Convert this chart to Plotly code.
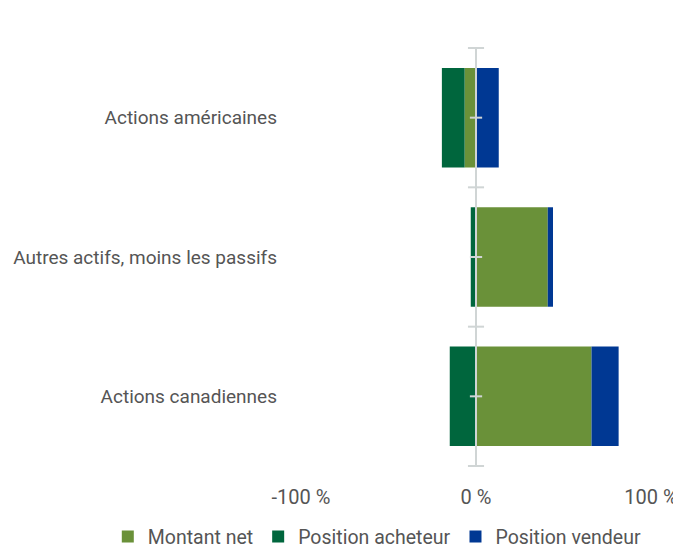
import plotly.graph_objects as go

categories = ["Actions américaines", "Autres actifs, moins les passifs", "Actions canadiennes"]
montant_net = [-6.5, 41, 66]
position_acheteur = [-13, -3, -15]
position_vendeur = [13, 3, 15.5]

tick_vals = [-100, 0, 100]
tick_text = ["-100 %", "0 %", "100 %"]

FONT = "Roboto, sans-serif"
TXT = "#555555"
AXIS = "#d0d5d5"

fig = go.Figure()
fig.add_trace(go.Bar(y=categories, x=montant_net, orientation="h", name="Montant net",
                     marker=dict(color="#6a9139", line=dict(width=0))))
fig.add_trace(go.Bar(y=categories, x=position_acheteur, orientation="h", name="Position acheteur",
                     marker=dict(color="#00663d", line=dict(width=0))))
fig.add_trace(go.Bar(y=categories, x=position_vendeur, orientation="h", name="Position vendeur",
                     marker=dict(color="#003893", line=dict(width=0))))

shapes = [dict(type="line", xref="x", yref="paper", x0=0, x1=0, y0=0, y1=1,
               line=dict(color=AXIS, width=2), layer="above")]
n = len(categories)
for i in range(n + 1):
    yb = i - 0.5
    shapes.append(dict(type="line", xref="x", yref="y", x0=-4.6, x1=4.6, y0=yb, y1=yb,
                       line=dict(color=AXIS, width=2), layer="above"))
for i in range(n):
    shapes.append(dict(type="line", xref="x", yref="y", x0=-3.5, x1=3.5, y0=i, y1=i,
                       line=dict(color=AXIS, width=2), layer="above"))

fig.update_layout(
    width=673, height=540,
    margin=dict(l=293, r=30, t=39, b=81, autoexpand=False),
    barmode="relative", bargap=0.286,
    plot_bgcolor="white", paper_bgcolor="white",
    font=dict(family=FONT, size=19, color=TXT),
    xaxis=dict(range=[-100, 100], tickvals=tick_vals, ticktext=tick_text,
               showgrid=False, zeroline=False, showline=False, ticks="",
               automargin=False, ticklabelstandoff=16, tickfont=dict(size=20, color=TXT)),
    yaxis=dict(categoryorder="array", categoryarray=categories, autorange="reversed",
               showgrid=False, zeroline=False, showline=False, ticks="",
               automargin=False, ticklabelstandoff=23, tickfont=dict(size=19, color=TXT)),
    legend=dict(orientation="h", xref="paper", yref="paper", x=-0.552, y=-0.12,
                xanchor="left", yanchor="top", font=dict(size=19.5, color=TXT),
                itemwidth=30, tracegroupgap=0),
    shapes=shapes,
    showlegend=True,
)
fig.write_html("out.html")
